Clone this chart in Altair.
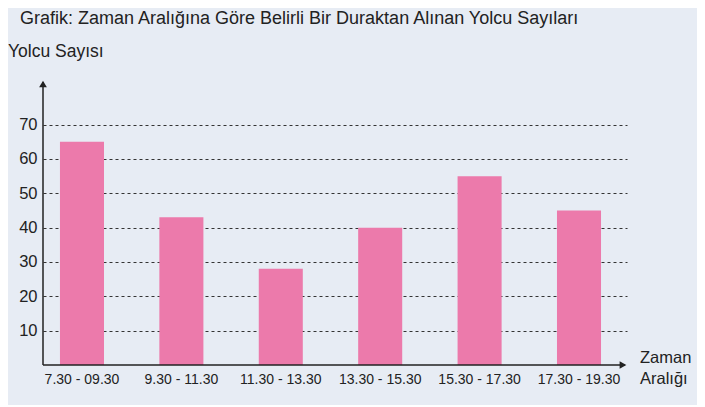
import altair as alt
import pandas as pd

# --- data ---
time_ranges = ["7.30 - 09.30", "9.30 - 11.30", "11.30 - 13.30",
               "13.30 - 15.30", "15.30 - 17.30", "17.30 - 19.30"]
passengers = [65, 43, 28, 40, 55, 45]
y_ticks = [10, 20, 30, 40, 50, 60, 70]

chart_title = "Grafik: Zaman Aralığına Göre Belirli Bir Duraktan Alınan Yolcu Sayıları"
y_title = "Yolcu Sayısı"
x_title_lines = ["Zaman", "Aralığı"]

FONT = "Liberation Sans"
BG = "#e7ecf4"
BAR = "#ec7aab"
INK = "#222222"
W, H = 584, 285

df = pd.DataFrame({"Zaman": time_ranges, "Yolcu": passengers})
one = pd.DataFrame({"a": [0]})

bars = alt.Chart(df).mark_bar(color=BAR).encode(
    x=alt.X("Zaman:N", sort=time_ranges,
            scale=alt.Scale(paddingInner=0.557, paddingOuter=0.216, align=0.395),
            axis=alt.Axis(title=None, labelAngle=0, domain=False, ticks=False,
                          labelFontSize=14, labelColor=INK, labelFont=FONT,
                          labelPadding=7)),
    y=alt.Y("Yolcu:Q", scale=alt.Scale(domain=[0, 83], nice=False),
            axis=alt.Axis(title=None, values=y_ticks, domain=False, ticks=False,
                          grid=True, gridDash=[3, 3], gridColor="#333333",
                          gridWidth=1, labelFontSize=16.5, labelColor=INK,
                          labelFont=FONT, labelPadding=6)),
)

# axis lines with arrow heads
y_axis_line = alt.Chart(one).mark_rule(color=INK, strokeWidth=1.5).encode(
    x=alt.value(0), y=alt.value(2), y2=alt.value(H))
x_axis_line = alt.Chart(one).mark_rule(color=INK, strokeWidth=1.5).encode(
    x=alt.value(0), x2=alt.value(W - 2), y=alt.value(H))
y_arrow = alt.Chart(one).mark_point(shape="triangle-up", filled=True, color=INK,
                                    size=60, opacity=1).encode(
    x=alt.value(0), y=alt.value(4))
x_arrow = alt.Chart(one).mark_point(shape="triangle-right", filled=True, color=INK,
                                    size=60, opacity=1).encode(
    x=alt.value(W - 4), y=alt.value(H))

title_text = alt.Chart(one).mark_text(text=chart_title, align="left", baseline="middle",
                                      font=FONT, fontSize=18, color=INK).encode(
    x=alt.value(-23), y=alt.value(-61))
y_title_text = alt.Chart(one).mark_text(text=y_title, align="left", baseline="middle",
                                        font=FONT, fontSize=17.5, color=INK).encode(
    x=alt.value(-35), y=alt.value(-28))
x_title_text = alt.Chart(one).mark_text(text=x_title_lines, align="left", baseline="middle",
                                        font=FONT, fontSize=16.5, color=INK,
                                        lineHeight=21).encode(
    x=alt.value(597), y=alt.value(278))

chart = alt.layer(
    bars, y_axis_line, x_axis_line, y_arrow, x_arrow,
    title_text, y_title_text, x_title_text
).properties(
    width=W, height=H,
    autosize=alt.AutoSizeParams(type="none"),
    padding={"left": 35, "top": 72, "right": 70, "bottom": 40},
    background=BG,
).configure_view(stroke=None)

chart.save("out.html", embed_options={"renderer": "svg", "actions": False})
